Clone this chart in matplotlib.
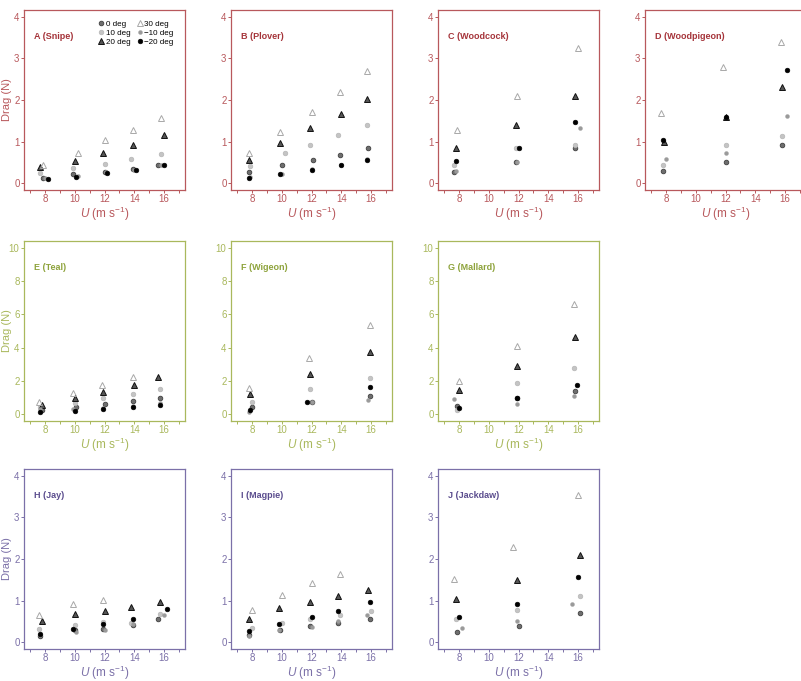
import numpy as np
import matplotlib.pyplot as plt
from matplotlib.ticker import MultipleLocator

plt.rcParams["font.family"] = ["Liberation Sans", "DejaVu Sans"]
plt.rcParams["mathtext.fontset"] = "custom"
plt.rcParams["mathtext.it"] = "Liberation Sans:italic"
plt.rcParams["mathtext.rm"] = "Liberation Sans"

# ── data: drag (N) per angle of attack ──────────────────────────────────────
angles = ["0 deg", "10 deg", "20 deg", "30 deg", "\u221210 deg", "\u221220 deg"]
keys = [0, 10, 20, 30, -10, -20]

# each panel: {angle: (speeds, drag)}
snipe = {
    30: ([7.9, 10.2, 12.0, 13.9, 15.8], [0.44, 0.73, 1.03, 1.27, 1.56]),
    20: ([7.7, 10.0, 11.9, 13.9, 16.0], [0.40, 0.54, 0.73, 0.91, 1.15]),
    10: ([7.7, 9.9, 12.0, 13.8, 15.8], [0.24, 0.36, 0.47, 0.58, 0.70]),
    0: ([7.9, 9.9, 12.0, 13.9, 15.6], [0.12, 0.22, 0.28, 0.34, 0.43]),
    -10: ([8.0, 10.2, 12.1, 14.0, 15.8], [0.13, 0.18, 0.26, 0.33, 0.43]),
    -20: ([8.2, 10.1, 12.2, 14.1, 16.0], [0.10, 0.15, 0.24, 0.32, 0.43]),
}
plover = {
    30: ([7.8, 9.9, 12.0, 13.9, 15.7], [0.73, 1.24, 1.71, 2.18, 2.69]),
    20: ([7.8, 9.9, 11.9, 14.0, 15.7], [0.57, 0.96, 1.33, 1.67, 2.03]),
    10: ([7.9, 10.2, 11.9, 13.8, 15.7], [0.41, 0.72, 0.93, 1.15, 1.40]),
    0: ([7.8, 10.0, 12.1, 13.9, 15.8], [0.26, 0.44, 0.57, 0.69, 0.84]),
    -10: ([7.9, 10.0, 12.0, 14.0, 15.7], [0.14, 0.23, 0.34, 0.44, 0.58]),
    -20: ([7.8, 9.9, 12.0, 14.0, 15.7], [0.12, 0.22, 0.33, 0.43, 0.57]),
}
woodcock = {
    30: ([7.9, 11.9, 16.0], [1.28, 2.09, 3.24]),
    20: ([7.8, 11.8, 15.8], [0.85, 1.40, 2.09]),
    10: ([7.7, 11.8, 15.8], [0.45, 0.85, 0.93]),
    0: ([7.7, 11.8, 15.8], [0.27, 0.51, 0.85]),
    -10: ([7.8, 11.9, 16.1], [0.30, 0.51, 1.33]),
    -20: ([7.8, 12.0, 15.8], [0.54, 0.85, 1.46]),
}
woodpigeon = {
    30: ([7.7, 11.8, 15.7], [1.69, 2.79, 3.39]),
    20: ([7.9, 12.0, 15.8], [0.98, 1.60, 2.31]),
    10: ([7.8, 12.0, 15.8], [0.44, 0.93, 1.13]),
    0: ([7.8, 12.0, 15.8], [0.30, 0.51, 0.93]),
    -10: ([8.0, 12.0, 16.1], [0.58, 0.73, 1.61]),
    -20: ([7.8, 12.0, 16.1], [1.03, 1.60, 2.73]),
}
teal = {
    30: ([7.6, 9.9, 11.8, 13.9, np.nan], [0.76, 1.27, 1.75, 2.25, np.nan]),
    20: ([7.8, 10.0, 11.9, 14.0, 15.6], [0.56, 0.96, 1.35, 1.75, 2.25]),
    10: ([7.7, 10.0, 11.9, 13.9, 15.7], [0.46, 0.70, 0.96, 1.22, 1.53]),
    0: ([7.8, 10.1, 12.0, 13.9, 15.7], [0.26, 0.46, 0.62, 0.78, 0.96]),
    -10: ([7.7, 9.9, 11.9, 13.9, 15.7], [0.30, 0.30, 0.40, 0.50, 0.70]),
    -20: ([7.7, 10.0, 11.9, 13.9, 15.7], [0.12, 0.20, 0.30, 0.42, 0.56]),
}
wigeon = {
    30: ([7.8, 11.8, 15.9], [1.61, 3.37, 5.34]),
    20: ([7.9, 11.9, 15.9], [1.20, 2.41, 3.73]),
    10: ([8.0, 11.9, 15.9], [0.76, 1.51, 2.19]),
    0: ([8.0, 12.0, 15.9], [0.46, 0.76, 1.10]),
    -10: ([7.8, 12.0, 15.8], [0.16, 0.76, 0.86]),
    -20: ([7.9, 11.7, 15.9], [0.26, 0.76, 1.65]),
}
mallard = {
    30: ([8.0, 11.9, 15.7], [2.01, 4.08, 6.65]),
    20: ([8.0, 11.9, 15.8], [1.47, 2.93, 4.64]),
    10: ([7.9, 11.9, 15.7], [0.26, 1.87, 2.77]),
    0: ([7.9, 11.9, 15.8], [0.50, 0.96, 1.39]),
    -10: ([7.7, 11.9, 15.7], [0.90, 0.60, 1.12]),
    -20: ([8.0, 11.9, 15.9], [0.40, 0.96, 1.75]),
}
jay = {
    30: ([7.6, 9.9, 11.9, np.nan, np.nan], [0.66, 0.91, 1.02, np.nan, np.nan]),
    20: ([7.8, 10.0, 12.0, 13.8, 15.7], [0.50, 0.67, 0.76, 0.85, 0.96]),
    10: ([7.6, 10.0, 11.9, 13.8, 15.7], [0.32, 0.42, 0.49, 0.46, 0.68]),
    0: ([7.7, 10.0, 11.9, 13.9, 15.6], [0.16, 0.29, 0.32, 0.42, 0.56]),
    -10: ([7.7, 10.1, 12.0, 13.9, 16.0], [0.18, 0.25, 0.30, 0.44, 0.65]),
    -20: ([7.7, 9.9, 11.9, 13.9, 16.2], [0.20, 0.32, 0.44, 0.56, 0.80]),
}
magpie = {
    30: ([8.0, 10.0, 12.0, 13.9, np.nan], [0.78, 1.13, 1.42, 1.63, np.nan]),
    20: ([7.8, 9.8, 11.9, 13.8, 15.8], [0.56, 0.82, 0.97, 1.10, 1.25]),
    10: ([8.0, 10.0, 11.9, 13.9, 16.0], [0.34, 0.46, 0.56, 0.66, 0.75]),
    0: ([7.8, 9.9, 11.9, 13.8, 15.9], [0.18, 0.29, 0.38, 0.46, 0.56]),
    -10: ([7.8, 9.8, 12.0, 13.8, 15.7], [0.14, 0.29, 0.36, 0.50, 0.66]),
    -20: ([7.8, 9.8, 12.0, 13.8, 15.9], [0.26, 0.44, 0.60, 0.76, 0.96]),
}
jackdaw = {
    30: ([7.7, 11.6, 16.0], [1.52, 2.29, 3.53]),
    20: ([7.8, 11.9, 16.1], [1.03, 1.49, 2.10]),
    10: ([7.8, 11.9, 16.1], [0.56, 0.78, 1.11]),
    0: ([7.9, 12.0, 16.1], [0.24, 0.40, 0.70]),
    -10: ([8.2, 11.9, 15.6], [0.35, 0.52, 0.91]),
    -20: ([8.0, 11.9, 16.0], [0.61, 0.92, 1.56]),
}

panels = [
    ("A (Snipe)", snipe, 0, 0), ("B (Plover)", plover, 0, 1),
    ("C (Woodcock)", woodcock, 0, 2), ("D (Woodpigeon)", woodpigeon, 0, 3),
    ("E (Teal)", teal, 1, 0), ("F (Wigeon)", wigeon, 1, 1),
    ("G (Mallard)", mallard, 1, 2),
    ("H (Jay)", jay, 2, 0), ("I (Magpie)", magpie, 2, 1),
    ("J (Jackdaw)", jackdaw, 2, 2),
]

# ── styling ──────────────────────────────────────────────────────────────────
frame_col = ["#b8585c", "#a9b85c", "#7b70a8"]
text_col = ["#a5343a", "#8ea33c", "#5b4d8e"]
ylims = [(-0.16, 4.16), (-0.4, 10.4), (-0.16, 4.16)]
ystep = [1, 2, 1]

style = {
    0: dict(marker="o", ms=3.4, mfc="#6e6e6e", mec="#333333", mew=0.5),
    10: dict(marker="o", ms=3.4, mfc="#c4c4c4", mec="#b0b0b0", mew=0.4),
    20: dict(marker="^", ms=3.8, mfc="#555555", mec="#111111", mew=0.7),
    30: dict(marker="^", ms=3.8, mfc="none", mec="#a8a8a8", mew=0.7),
    -10: dict(marker="o", ms=2.8, mfc="#9a9a9a", mec="#9a9a9a", mew=0.3),
    -20: dict(marker="o", ms=3.4, mfc="#000000", mec="#000000", mew=0.4),
}

W, H = 801, 681
fig = plt.figure(figsize=(W / 100, H / 100), dpi=100)
col_left = [24, 231, 438, 645]
row_top = [10, 241, 469]
aw, ah = 161, 180

for title, data, r, c in panels:
    ax = fig.add_axes([col_left[c] / W, 1 - (row_top[r] + ah) / H, aw / W, ah / H])
    fc, tc = frame_col[r], text_col[r]
    for k, lab in zip(keys, angles):
        xs, ys = data[k]
        ax.plot(xs, ys, ls="none", label=lab, **style[k])
    ax.set_xlim(6.6, 17.4)
    ax.set_ylim(*ylims[r])
    ax.xaxis.set_major_locator(MultipleLocator(2))
    ax.xaxis.set_minor_locator(MultipleLocator(1))
    ax.yaxis.set_major_locator(MultipleLocator(ystep[r]))
    for s in ax.spines.values():
        s.set_color(fc)
        s.set_linewidth(0.9)
    ax.tick_params(which="both", colors=fc, labelcolor=fc, length=2.2, width=0.7,
                   labelsize=7, pad=1)
    ax.set_xlabel(r"$U$ (m s$^{-1}$)", color=fc, fontsize=8.5, labelpad=0)
    if c == 0:
        ax.set_ylabel("Drag (N)", color=fc, fontsize=8)
        ax.yaxis.set_label_coords(-0.072, 0.5)
    ax.text(0.06, 0.84, title, transform=ax.transAxes, color=tc,
            fontsize=6.5, fontweight="bold")
    if title.startswith("A"):
        h, l = ax.get_legend_handles_labels()
        ax.legend(h, l, ncol=2, loc="upper right", bbox_to_anchor=(0.96, 0.97),
                  fontsize=5.8, frameon=False, handlelength=0.6,
                  handletextpad=0.3, columnspacing=0.8, labelspacing=0.15,
                  borderaxespad=0.2)

fig.savefig("out.png", dpi=100)
